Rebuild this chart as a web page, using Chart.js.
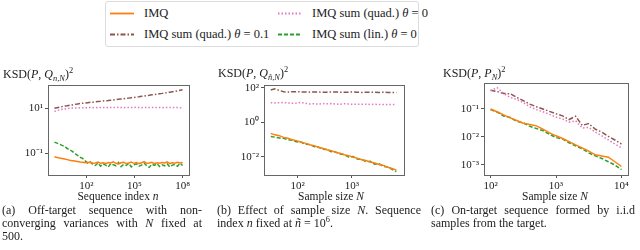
<!DOCTYPE html>
<html>
<head>
<meta charset="utf-8">
<script src="https://cdn.jsdelivr.net/npm/chart.js@4.4.0/dist/chart.umd.min.js"></script>
<style>
  body { margin: 0; background: #fff; }
  #fig { position: relative; width: 640px; height: 250px; overflow: hidden; font-family: "Liberation Serif", "Times New Roman", serif; color: #222; }
  canvas { position: absolute; }
  .legend { position: absolute; left: 105px; top: 1px; width: 312px; height: 44px; border: 1px solid #dcdcdc; border-radius: 3px; }
  .item { position: absolute; font-size: 12.5px; line-height: 14px; white-space: nowrap; }
  .item svg { position: absolute; left: 0; top: 6px; }
  .item span { position: absolute; left: 34px; top: 0; }
  .ylab { position: absolute; font-size: 12px; white-space: nowrap; }
  .xlab { position: absolute; font-size: 11.5px; white-space: nowrap; transform: translateX(-50%); }
  .cap { position: absolute; top: 204px; width: 204px; font-size: 12px; line-height: 13px; text-align: justify; }
  i { font-style: italic; }
  sub, sup { font-size: 70%; line-height: 0; }
</style>
</head>
<body>
<div id="fig">
  <div class="legend" id="legend"></div>

  <canvas id="chartA" width="200" height="145" style="left:0px;top:60px"></canvas>
  <canvas id="chartB" width="200" height="145" style="left:215px;top:60px"></canvas>
  <canvas id="chartC" width="210" height="145" style="left:430px;top:60px"></canvas>

  <div class="ylab" style="left:3px;top:67px">KSD(<i>P</i>, <i>Q</i><sub><i>n</i>,<i>N</i></sub>)<sup>2</sup></div>
  <div class="ylab" style="left:218px;top:66px">KSD(<i>P</i>, <i>Q</i><sub><i>ñ</i>,<i>N</i></sub>)<sup>2</sup></div>
  <div class="ylab" style="left:443px;top:66px">KSD(<i>P</i>, <i>P</i><sub><i>N</i></sub>)<sup>2</sup></div>

  <div class="xlab" style="left:118px;top:190px">Sequence index <i>n</i></div>
  <div class="xlab" style="left:331px;top:190px">Sample size <i>N</i></div>
  <div class="xlab" style="left:555px;top:190px">Sample size <i>N</i></div>

  <div class="cap" style="left:2px;width:200px">(a) Off-target sequence with non-converging variances with <i>N</i> fixed at 500.</div>
  <div class="cap" style="left:217px">(b) Effect of sample size <i>N</i>. Sequence index <i>n</i> fixed at <i>ñ</i> = 10<sup>6</sup>.</div>
  <div class="cap" style="left:431px">(c) On-target sequence formed by i.i.d samples from the target.</div>
</div>

<script>
// series order: IMQ, IMQ sum (quad.) theta=0, IMQ sum (quad.) theta=0.1, IMQ sum (lin.) theta=0
const seriesNames = ["IMQ", "IMQ sum (quad.) θ = 0", "IMQ sum (quad.) θ = 0.1", "IMQ sum (lin.) θ = 0"];
const seriesColors = ["#ff7f0e", "#e377c2", "#8c564b", "#2ca02c"];
const seriesDash = [[], [1.5, 2], [5, 2, 1.5, 2], [4, 2]];

// (a) sequence index n
const seqIndex = [1, 1.45, 2.09, 3.02, 4.37, 6.31, 9.12, 13.2, 19.1, 27.5, 39.8, 57.5, 83.2, 120, 174, 251, 363, 525, 759,
  1096, 1585, 2291, 3311, 4786, 6918, 1e4, 14450, 20890, 30200, 43650, 63100, 91200, 131800, 190500, 275400, 398100,
  575400, 831800, 1.202e6, 1.738e6, 2.512e6, 3.631e6, 5.248e6, 7.586e6, 1.096e7, 1.585e7, 2.291e7, 3.311e7, 4.786e7,
  6.918e7, 1e8];
const imqA = [0.068, 0.064, 0.060, 0.057, 0.054, 0.051, 0.048, 0.046, 0.044, 0.042, 0.040, 0.039,
  0.037, 0.038, 0.039, 0.035, 0.036, 0.040, 0.035, 0.037, 0.034, 0.038, 0.036, 0.041, 0.035, 0.033, 0.037, 0.039,
  0.034, 0.036, 0.040, 0.035, 0.038, 0.034, 0.037, 0.042, 0.035, 0.036, 0.039, 0.034, 0.037, 0.035, 0.038, 0.036,
  0.041, 0.034, 0.037, 0.035, 0.039, 0.036, 0.038];
const quad0A = [7.3, 7.9, 8.5, 9.0, 9.4, 9.8, 10.0, 10.2, 10.4, 10.3, 10.6, 10.5, 10.7, 10.6, 10.9, 10.7, 10.8,
  10.6, 10.9, 11.0, 10.8, 10.7, 11.0, 10.9, 10.8, 11.1, 10.9, 10.7, 10.9, 11.0, 10.8, 10.9, 11.1, 10.8, 10.7, 10.9,
  11.0, 10.8, 10.9, 10.7, 10.9, 11.0, 10.8, 10.7, 10.9, 10.8, 10.7, 10.9, 10.8, 10.6, 10.7];
const quad01A = [10.0, 10.7, 11.3, 11.9, 12.6, 13.1, 13.8, 14.2, 15.1, 15.6, 16.4, 16.9, 17.3, 17.9, 18.6, 18.8,
  19.7, 20.1, 20.5, 21.4, 21.8, 22.2, 23.1, 23.5, 24.6, 25.3, 26.0, 26.6, 27.8, 28.5, 29.9, 30.6, 32.0, 33.1, 34.6,
  35.4, 37.2, 38.5, 40.1, 41.3, 43.2, 44.8, 46.5, 48.6, 50.3, 52.8, 55.0, 57.1, 60.2, 63.5, 67.0];
const linA = [0.31, 0.28, 0.25, 0.22, 0.20, 0.16, 0.14, 0.12, 0.095, 0.08, 0.065, 0.058, 0.045, 0.036, 0.040, 0.031,
  0.028, 0.036, 0.026, 0.033, 0.029, 0.024, 0.034, 0.030, 0.027, 0.038, 0.025, 0.031, 0.028, 0.035, 0.024, 0.030,
  0.033, 0.026, 0.029, 0.036, 0.027, 0.023, 0.032, 0.028, 0.034, 0.025, 0.030, 0.027, 0.033, 0.024, 0.029, 0.031,
  0.026, 0.035, 0.028];

// (b) sample size N, n fixed
const sizeB = [32, 38, 46, 55, 66, 79, 95, 115, 138, 166, 200, 240, 288, 347, 417, 501, 603, 724, 871, 1047, 1259,
  1514, 1820, 2188, 2630, 3162, 3802, 4571, 5495, 6607];
const imqB = [0.23, 0.19, 0.17, 0.135, 0.12, 0.098, 0.088, 0.070, 0.063, 0.050, 0.045, 0.036, 0.032, 0.026, 0.023,
  0.0185, 0.0165, 0.0133, 0.0118, 0.0096, 0.0085, 0.0069, 0.0062, 0.0050, 0.0044, 0.0036, 0.0032, 0.0025, 0.0021, 0.0017];
const quad0B = [14, 13.5, 13.8, 14.2, 13.6, 12.8, 13.2, 14.5, 13.0, 11.8, 12.0, 11.5, 12.5, 11.9, 12.3, 11.6, 11.4,
  12.0, 11.7, 11.3, 11.5, 11.2, 11.4, 11.0, 11.2, 10.9, 11.0, 10.8, 10.9, 10.7];
const quad01B = [75, 88, 72, 60, 58, 60, 61, 59, 58, 57, 59, 58, 56, 57, 58, 59, 57, 56, 57, 58, 56, 55, 56, 57, 56,
  55, 56, 55, 55, 54];
const linB = [0.15, 0.14, 0.125, 0.12, 0.10, 0.092, 0.075, 0.072, 0.055, 0.052, 0.040, 0.037, 0.028, 0.027, 0.020,
  0.019, 0.0145, 0.0135, 0.0098, 0.0105, 0.0075, 0.0072, 0.0052, 0.0055, 0.0038, 0.0040, 0.0028, 0.0026, 0.0019, 0.0014];

// (c) sample size N, i.i.d. samples
const sizeC = [100, 126, 158, 200, 251, 316, 398, 501, 631, 794, 1000, 1259, 1585, 1995, 2512, 3162, 3981, 5012,
  6310, 7943, 10000];
const imqC = [0.1, 0.08, 0.062, 0.048, 0.039, 0.031, 0.028, 0.025, 0.019, 0.014, 0.011, 0.0088, 0.0068, 0.0052,
  0.0041, 0.0031, 0.0023, 0.0021, 0.0019, 0.0013, 0.00088];
const quad0C = [0.45, 0.58, 0.36, 0.26, 0.22, 0.17, 0.12, 0.095, 0.08, 0.064, 0.052, 0.044, 0.034, 0.038, 0.021,
  0.022, 0.015, 0.011, 0.0078, 0.0056, 0.0041];
const quad01C = [0.47, 0.42, 0.36, 0.35, 0.26, 0.2, 0.15, 0.12, 0.10, 0.082, 0.068, 0.057, 0.042, 0.055, 0.026,
  0.03, 0.019, 0.015, 0.0105, 0.0078, 0.0056];
const linC = [0.095, 0.078, 0.056, 0.05, 0.036, 0.032, 0.024, 0.02, 0.017, 0.0125, 0.0095, 0.0085, 0.0062, 0.0048,
  0.0038, 0.0027, 0.0021, 0.0017, 0.0013, 0.001, 0.00068];

// tick values and labels
const ticksXA = [1e2, 1e5, 1e8];
const ticksYA = [1e-1, 1e1];
const ticksXB = [1e2, 1e3];
const ticksYB = [1e-2, 1e0, 1e2];
const ticksXC = [1e2, 1e3, 1e4];
const ticksYC = [1e-3, 1e-2, 1e-1];
const sup = {"-": "⁻", "0": "⁰", "1": "¹", "2": "²", "3": "³", "4": "⁴", "5": "⁵", "6": "⁶", "7": "⁷", "8": "⁸", "9": "⁹"};
function powLabel(v) {
  let e = String(Math.round(Math.log10(v)));
  return "10" + e.split("").map(c => sup[c]).join("");
}

// legend (html)
const legendSlots = [[0, 4, 4], [1, 172, 4], [2, 4, 25], [3, 172, 25]];
let legendHtml = "";
legendSlots.forEach(function (s) {
  let i = s[0];
  let dash = seriesDash[i].length ? ' stroke-dasharray="' + seriesDash[i].join(",") + '"' : "";
  let name = seriesNames[i].replace("θ", "<i>θ</i>");
  legendHtml += '<div class="item" style="left:' + s[1] + 'px;top:' + s[2] + 'px">' +
    '<svg width="26" height="3"><line x1="0" y1="1.5" x2="24" y2="1.5" stroke="' + seriesColors[i] + '" stroke-width="1.8"' + dash + '/></svg>' +
    '<span>' + name + '</span></div>';
});
document.getElementById("legend").innerHTML = legendHtml;

const framePlugin = {
  id: "frame",
  afterDatasetsDraw(chart) {
    const a = chart.chartArea, c = chart.ctx;
    c.save();
    c.strokeStyle = "#666";
    c.lineWidth = 1;
    c.strokeRect(Math.round(a.left) + 0.5, Math.round(a.top) + 0.5, Math.round(a.right - a.left), Math.round(a.bottom - a.top));
    c.restore();
  }
};

function makeSets(xs, ys) {
  return ys.map(function (vals, i) {
    return {
      label: seriesNames[i],
      data: vals.map((v, k) => ({x: xs[k], y: v})),
      borderColor: seriesColors[i],
      borderDash: seriesDash[i],
      borderWidth: 1.5,
      pointRadius: 0,
      tension: 0,
      fill: false
    };
  });
}

function axis(min, max, tickVals, fitSize, isY) {
  return {
    type: "logarithmic",
    min: min,
    max: max,
    afterBuildTicks: function (scale) { scale.ticks = tickVals.map(v => ({value: v})); },
    afterFit: function (scale) { if (isY) scale.width = fitSize; else scale.height = fitSize; },
    grid: {display: true, drawOnChartArea: false, drawTicks: true, tickLength: 3, color: "#555"},
    border: {display: false},
    ticks: {
      autoSkip: false, maxRotation: 0, padding: 2, color: "#222",
      font: {family: "'Liberation Serif', 'Times New Roman', serif", size: 11},
      callback: function (v) { return powLabel(v); }
    }
  };
}

function drawPanel(id, xs, ys, xr, yr, xt, yt, yw, pad) {
  new Chart(document.getElementById(id), {
    type: "line",
    data: {datasets: makeSets(xs, ys)},
    options: {
      responsive: false,
      animation: false,
      devicePixelRatio: 1,
      layout: {padding: pad},
      plugins: {legend: {display: false}, tooltip: {enabled: false}},
      scales: {
        x: axis(xr[0], xr[1], xt, 30, false),
        y: axis(yr[0], yr[1], yt, yw, true)
      }
    },
    plugins: [framePlugin]
  });
}

drawPanel("chartA", seqIndex, [imqA, quad0A, quad01A, linA], [0.398, 2.51e8], [0.0105, 110], ticksXA, ticksYA, 48,
  {top: 25, right: 11, left: 0, bottom: 0});
drawPanel("chartB", sizeB, [imqB, quad0B, quad01B, linB], [24, 9120], [0.00089, 148], ticksXB, ticksYB, 49,
  {top: 25, right: 11, left: 0, bottom: 0});
drawPanel("chartC", sizeC, [imqC, quad0C, quad01C, linC], [79.4, 12590], [0.000437, 0.85], ticksXC, ticksYC, 54,
  {top: 23, right: 12, left: 0, bottom: 0});
</script>
</body>
</html>
